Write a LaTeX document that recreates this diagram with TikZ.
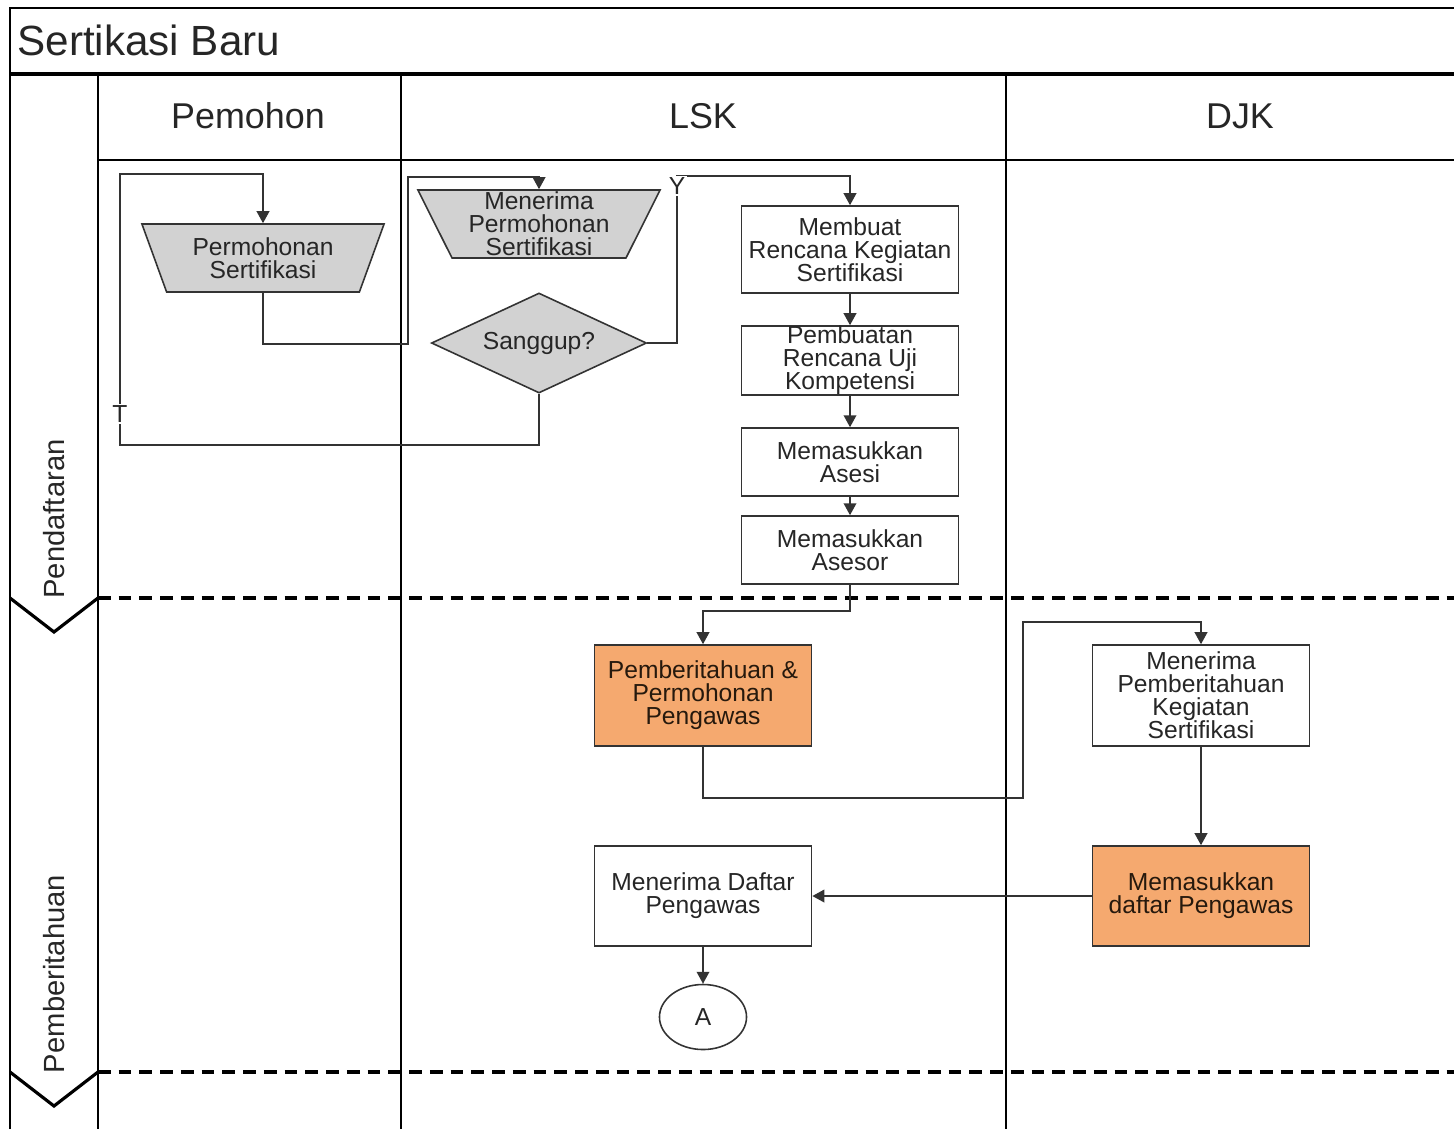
\documentclass[tikz,border=0pt]{standalone}
\usepackage{fontspec}
\setmainfont{Liberation Sans}
\usetikzlibrary{shapes.geometric,arrows.meta}
\definecolor{orangebox}{HTML}{F5A96F}

\begin{document}
\begin{tikzpicture}[x=0.01cm,y=-0.01cm,
  frame/.style={line width=0.6pt},
  flow/.style={draw=black!80,line width=0.45pt,-{Triangle[width=3.6pt,length=3.4pt]}},
  proc/.style={draw=black!80,line width=0.45pt,fill=white,minimum width=2.17cm,inner xsep=1pt,inner ysep=0pt,align=center,font=\fontsize{7}{6.55}\selectfont,text=black!85},
  hot/.style={proc,fill=orangebox,text=black!80!brown},
  manual/.style={trapezium,shape border rotate=180,trapezium stretches body,trapezium angle=59,draw=black!80,fill=gray!35,line width=0.45pt,minimum width=2.42cm,minimum height=0.68cm,inner sep=0pt,align=center,font=\fontsize{7}{6.55}\selectfont,text=black!85},
  decision/.style={diamond,aspect=2.15,draw=black!80,fill=gray!35,line width=0.45pt,minimum width=2.15cm,minimum height=1cm,inner sep=0pt,font=\fontsize{7}{6.55}\selectfont,text=black!85},
  lanelabel/.style={rotate=90,font=\fontsize{8.3}{9}\selectfont,text=black!85},
  header/.style={font=\fontsize{10.2}{11}\selectfont,text=black!85},
  tag/.style={fill=white,inner sep=0.5pt,font=\fontsize{7}{6.55}\selectfont,text=black!85}]
  \useasboundingbox (0,0) rectangle (1454,1129);

  % Pool and lanes
  \draw[frame] (10,1129) -- (10,8) -- (1454,8);
  \draw[line width=0.9pt] (10,74) -- (1454,74);
  \draw[line width=0.5pt] (98,160) -- (1454,160);
  \foreach \xc in {98,401,1006}
    \draw[frame] (\xc,74) -- (\xc,1129);
  \node[anchor=west,font=\fontsize{12}{13}\selectfont,text=black!85] (title) at (5,40) {Sertikasi Baru};
  \node[header] (pemohon) at (248,116) {Pemohon};
  \node[header] (lsk) at (703,116) {LSK};
  \node[header] (djk) at (1240,116) {DJK};

  % Phase separators
  \foreach \yc in {598,1072} {
    \draw[line width=1.1pt,dash pattern=on 3.6pt off 2.3pt] (98,\yc) -- (1454,\yc);
    \draw[line width=0.9pt] (10,\yc) -- (54,\yc+34) -- (98,\yc);
  }
  \node[lanelabel] (pendaftaran) at (54,519) {Pendaftaran};
  \node[lanelabel] (pemberitahuanlane) at (54,974) {Pemberitahuan};

  % Pendaftaran
  \node[manual] (permohonan) at (263,258) {Permohonan\\Sertifikasi};
  \node[manual,trapezium angle=62] (terima) at (539,224) {Menerima\\Permohonan\\Sertifikasi};
  \node[decision] (sanggup) at (539,343) {Sanggup?};
  \node[proc,minimum height=0.87cm] (rencana) at (850,249.5) {Membuat\\Rencana Kegiatan\\Sertifikasi};
  \node[proc,minimum height=0.69cm] (uji) at (850,360.5) {Pembuatan\\Rencana Uji\\Kompetensi};
  \node[proc,minimum height=0.68cm] (asesi) at (850,462) {Memasukkan\\Asesi};
  \node[proc,minimum height=0.68cm] (asesor) at (850,550) {Memasukkan\\Asesor};

  % Pemberitahuan
  \node[hot,minimum height=1.01cm] (pemberitahuan) at (703,695.5) {Pemberitahuan \&\\Permohonan\\Pengawas};
  \node[proc,minimum height=1.01cm] (terimapb) at (1201,695.5) {Menerima\\Pemberitahuan\\Kegiatan\\Sertifikasi};
  \node[hot,minimum height=1cm] (daftar) at (1201,896) {Memasukkan\\daftar Pengawas};
  \node[proc,minimum height=1cm] (terimadf) at (703,896) {Menerima Daftar\\Pengawas};
  \node[ellipse,draw=black!80,line width=0.45pt,minimum width=0.87cm,minimum height=0.65cm,inner sep=0pt,font=\fontsize{7}{6.55}\selectfont,text=black!85] (A) at (703,1017) {A};

  % Connectors
  \draw[flow] (permohonan.270) -- ++(0,51) -| (408,177) -| (terima.90);
  \draw[flow] (sanggup.east) -| (677,176) -| (rencana.north);
  \draw[flow] (sanggup.south) -- ++(0,51) -| (120,174) -| (permohonan.90);
  \node[tag] (ylabel) at (677,186) {Y};
  \node[tag] (tlabel) at (120,414) {T};
  \draw[flow] (rencana) -- (uji);
  \draw[flow] (uji) -- (asesi);
  \draw[flow] (asesi) -- (asesor);
  \draw[flow] (asesor.south) -- ++(0,26) -| (pemberitahuan.north);
  \draw[flow] (pemberitahuan.south) -- ++(0,51) -| (1023,622) -| (terimapb.north);
  \draw[flow] (terimapb) -- (daftar);
  \draw[flow] (daftar) -- (terimadf);
  \draw[flow] (terimadf) -- (A);
\end{tikzpicture}
\end{document}
